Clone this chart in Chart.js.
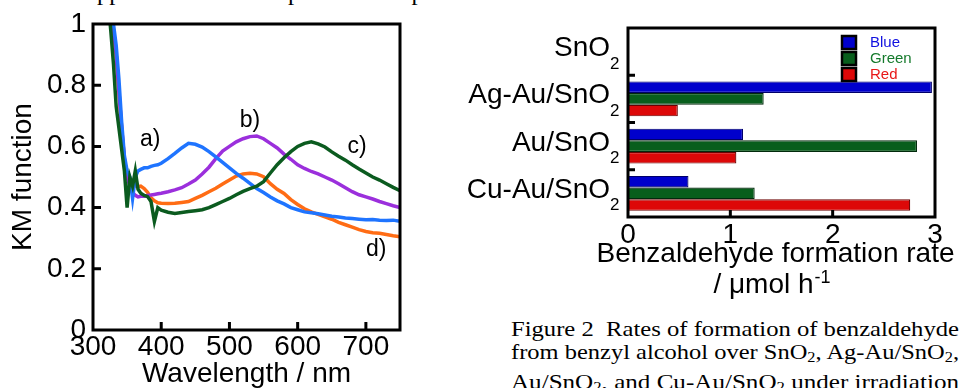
<!DOCTYPE html>
<html>
<head>
<meta charset="UTF-8">
<title>KM spectra and benzaldehyde formation rates</title>
<script src="https://cdn.jsdelivr.net/npm/chart.js"></script>
<style>
  body { margin: 0; width: 963px; height: 388px; overflow: hidden; background: #fff; position: relative; }
  #spectra { position: absolute; left: 0; top: 0; }
  #rates { position: absolute; left: 420px; top: 0; }
  .cap { position: absolute; font-family: "Liberation Serif", "Times New Roman", serif; font-size: 21px; line-height: 24px; white-space: pre; transform-origin: 0 0; color: #000; }
  .cap sub { font-size: 14px; vertical-align: -3px; line-height: 0; }
</style>
</head>
<body>
<div class="cap" id="topline" style="left:86px; top:-18.6px">appeared at the new peak in the spectra</div>
<canvas id="spectra" width="420" height="388"></canvas>
<canvas id="rates" width="543" height="300"></canvas>
<div class="cap fit" style="left:511px; top:317px">Figure 2  Rates of formation of benzaldehyde</div>
<div class="cap fit" style="left:511px; top:340px">from benzyl alcohol over SnO<sub>2</sub>, Ag-Au/SnO<sub>2</sub>,</div>
<div class="cap fit" style="left:511px; top:370px">Au/SnO<sub>2</sub>, and Cu-Au/SnO<sub>2</sub> under irradiation</div>

<script>
// ---- left panel: KM function spectra ----
const wavelengths = [322, 326, 330, 334, 338, 342, 346, 350, 354, 358, 362, 366, 370, 375, 380, 385, 390, 395, 400,
  410, 420, 430, 440, 450, 460, 470, 480, 490, 500, 510, 520, 530, 540, 550, 560, 570, 580, 590, 600,
  610, 620, 630, 640, 650, 660, 670, 680, 690, 700, 710, 720, 730, 740, 750];
const kmA = [1.10, 1.06, 1.00, 0.93, 0.82, 0.68, 0.57, 0.52, 0.50, 0.43, 0.50, 0.52, 0.525, 0.53, 0.53, 0.535, 0.538, 0.54, 0.545,
  0.56, 0.577, 0.595, 0.61, 0.607, 0.598, 0.583, 0.566, 0.548, 0.53, 0.512, 0.496, 0.479, 0.462, 0.449, 0.435, 0.422, 0.412, 0.40, 0.393,
  0.386, 0.383, 0.38, 0.376, 0.372, 0.369, 0.366, 0.364, 0.362, 0.36, 0.361, 0.359, 0.358, 0.359, 0.355];
const kmB = [1.10, 1.05, 0.98, 0.90, 0.78, 0.66, 0.56, 0.50, 0.47, 0.45, 0.44, 0.435, 0.437, 0.437, 0.44, 0.441, 0.443, 0.445, 0.447,
  0.452, 0.458, 0.465, 0.477, 0.49, 0.51, 0.532, 0.56, 0.585, 0.60, 0.615, 0.625, 0.632, 0.634, 0.625, 0.61, 0.595, 0.575, 0.558, 0.54,
  0.528, 0.518, 0.51, 0.50, 0.49, 0.478, 0.465, 0.452, 0.442, 0.435, 0.428, 0.42, 0.413, 0.406, 0.40];
const kmC = [1.08, 0.98, 0.87, 0.73, 0.66, 0.59, 0.52, 0.40, 0.50, 0.47, 0.52, 0.46, 0.447, 0.44, 0.436, 0.42, 0.355, 0.40, 0.392,
  0.385, 0.381, 0.384, 0.387, 0.39, 0.393, 0.40, 0.41, 0.42, 0.43, 0.442, 0.453, 0.462, 0.47, 0.485, 0.513, 0.54, 0.563, 0.583, 0.60,
  0.61, 0.615, 0.608, 0.598, 0.582, 0.568, 0.555, 0.54, 0.526, 0.513, 0.50, 0.49, 0.478, 0.466, 0.455];
const kmD = [1.10, 1.05, 0.98, 0.90, 0.78, 0.66, 0.56, 0.50, 0.48, 0.475, 0.47, 0.468, 0.47, 0.462, 0.45, 0.432, 0.422, 0.416, 0.414,
  0.413, 0.414, 0.417, 0.42, 0.43, 0.44, 0.452, 0.463, 0.477, 0.49, 0.503, 0.51, 0.512, 0.51, 0.501, 0.478, 0.46, 0.446, 0.426, 0.41,
  0.396, 0.386, 0.378, 0.37, 0.362, 0.352, 0.344, 0.336, 0.328, 0.322, 0.318, 0.316, 0.312, 0.308, 0.305];
const curveNames = ['a)', 'b)', 'c)', 'd)'];

// ---- right panel: benzaldehyde formation rates ----
const catalysts = ['SnO2', 'Ag-Au/SnO2', 'Au/SnO2', 'Cu-Au/SnO2'];
const rateBlue = [0, 2.97, 1.124, 0.591];
const rateGreen = [0, 1.326, 2.824, 1.238];
const rateRed = [0, 0.487, 1.059, 2.758];
const rateTitle = ['Benzaldehyde formation rate', '/ \u03bcmol h'];
const rateUnitPower = '-1';

const SANS = '"Liberation Sans", Arial, sans-serif';

// where the a)..d) tags sit, in data units
const curveTags = [
  { text: curveNames[0], at: [384, 0.621] },
  { text: curveNames[1], at: [530, 0.683] },
  { text: curveNames[2], at: [687, 0.598] },
  { text: curveNames[3], at: [715, 0.261] }
];

function toPoints(vals) {
  return wavelengths.map((w, i) => ({ x: w, y: vals[i] }));
}

function drawFrame(chart) {
  const { ctx, chartArea: a } = chart;
  ctx.save();
  ctx.strokeStyle = '#000';
  ctx.lineWidth = 3;
  ctx.strokeRect(a.left, a.top, a.right - a.left, a.bottom - a.top);
  ctx.restore();
}

const spectraDecor = {
  id: 'spectraDecor',
  afterDraw(chart) {
    const { ctx, chartArea: a, scales: { x, y } } = chart;
    drawFrame(chart);
    ctx.save();
    ctx.strokeStyle = '#000';
    ctx.lineWidth = 3;
    ctx.beginPath();
    x.ticks.forEach(t => {
      if (t.value > x.min && t.value < x.max) {
        const px = x.getPixelForValue(t.value);
        ctx.moveTo(px, a.bottom); ctx.lineTo(px, a.bottom - 8);
      }
    });
    y.ticks.forEach(t => {
      if (t.value > y.min && t.value < y.max) {
        const py = y.getPixelForValue(t.value);
        ctx.moveTo(a.left, py); ctx.lineTo(a.left + 8, py);
      }
    });
    ctx.stroke();
    ctx.font = '23px ' + SANS;
    ctx.fillStyle = '#000';
    ctx.textAlign = 'center';
    ctx.textBaseline = 'middle';
    curveTags.forEach(t => ctx.fillText(t.text, x.getPixelForValue(t.at[0]), y.getPixelForValue(t.at[1])));
    ctx.restore();
  }
};

const legendText = ['#1010e0', '#157a2c', '#e81818'];

const ratesDecor = {
  id: 'ratesDecor',
  afterDraw(chart) {
    const { ctx, chartArea: a, scales: { x, y } } = chart;
    drawFrame(chart);
    ctx.save();
    ctx.strokeStyle = '#000';
    ctx.lineWidth = 3;
    ctx.beginPath();
    x.ticks.forEach(t => {
      if (t.value > x.min && t.value < x.max) {
        const px = x.getPixelForValue(t.value);
        ctx.moveTo(px, a.bottom); ctx.lineTo(px, a.bottom - 7);
      }
    });
    for (let i = 0; i < catalysts.length - 1; i++) {
      const py = (y.getPixelForTick(i) + y.getPixelForTick(i + 1)) / 2;
      ctx.moveTo(a.left, py); ctx.lineTo(a.left + 7, py);
    }
    ctx.stroke();

    // catalyst names, last "2" drawn as a subscript
    ctx.fillStyle = '#000';
    ctx.textBaseline = 'alphabetic';
    catalysts.forEach((name, i) => {
      const py = y.getPixelForTick(i);
      ctx.font = '28px ' + SANS;
      ctx.textAlign = 'right';
      ctx.fillText(name.slice(0, -1), a.left - 18, py + 4.5);
      ctx.font = '17px ' + SANS;
      ctx.textAlign = 'left';
      ctx.fillText(name.slice(-1), a.left - 18, py + 17);
    });

    // x axis title (two lines, unit with superscript)
    const cx = (a.left + a.right) / 2 - 6;
    ctx.font = '28px ' + SANS;
    ctx.textAlign = 'center';
    ctx.fillText(rateTitle[0], cx, a.bottom + 45);
    const w1 = ctx.measureText(rateTitle[1]).width;
    ctx.font = '18px ' + SANS;
    const w2 = ctx.measureText(rateUnitPower).width;
    const sx = cx - (w1 + w2) / 2 - 4;
    ctx.textAlign = 'left';
    ctx.font = '28px ' + SANS;
    ctx.fillText(rateTitle[1], sx, a.bottom + 76);
    ctx.font = '18px ' + SANS;
    ctx.fillText(rateUnitPower, sx + w1 + 1, a.bottom + 66);

    // legend
    chart.data.datasets.forEach((ds, i) => {
      const top = a.top + 8 + i * 16;
      const left = a.right - 93;
      ctx.fillStyle = ds.backgroundColor;
      ctx.fillRect(left, top, 14, 13);
      ctx.lineWidth = 2.5;
      ctx.strokeStyle = '#000';
      ctx.strokeRect(left, top, 14, 13);
      ctx.fillStyle = legendText[i];
      ctx.font = '15px ' + SANS;
      ctx.textBaseline = 'middle';
      ctx.fillText(ds.label, left + 28, top + 7);
    });
    ctx.restore();
  }
};

new Chart(document.getElementById('spectra'), {
  type: 'line',
  data: {
    datasets: [
      { label: curveNames[0], data: toPoints(kmA), borderColor: '#1f74ff', order: 1 },
      { label: curveNames[1], data: toPoints(kmB), borderColor: '#9b2fdc', order: 2 },
      { label: curveNames[2], data: toPoints(kmC), borderColor: '#0b5b1f', order: 0 },
      { label: curveNames[3], data: toPoints(kmD), borderColor: '#ff6c14', order: 3 }
    ]
  },
  options: {
    responsive: false,
    animation: false,
    layout: { padding: { top: 24, right: 20, left: 0, bottom: 0 } },
    elements: { point: { radius: 0 }, line: { borderWidth: 3.5, tension: 0 } },
    plugins: { legend: { display: false }, tooltip: { enabled: false } },
    scales: {
      x: {
        type: 'linear', min: 300, max: 750,
        grid: { display: false, drawTicks: false },
        border: { display: false },
        ticks: { stepSize: 100, includeBounds: false, padding: 0, color: '#000', font: { family: SANS, size: 28 } },
        title: { display: true, text: 'Wavelength / nm', color: '#000', font: { family: SANS, size: 28, lineHeight: 1 }, padding: 0 },
        afterFit(s) { s.height = 58; }
      },
      y: {
        min: 0, max: 1,
        grid: { display: false, drawTicks: false },
        border: { display: false },
        ticks: {
          stepSize: 0.2, padding: 7, color: '#000', font: { family: SANS, size: 28 },
          callback: v => String(Math.round(v * 10) / 10)
        },
        title: { display: true, text: 'KM function', color: '#000', font: { family: SANS, size: 28, lineHeight: 1 }, padding: { top: 9, bottom: 0 } },
        afterFit(s) { s.width = 93; }
      }
    }
  },
  plugins: [spectraDecor]
});

new Chart(document.getElementById('rates'), {
  type: 'bar',
  data: {
    labels: catalysts,
    datasets: [
      { label: 'Blue', data: rateBlue, backgroundColor: '#0000cc', borderColor: '#00006a' },
      { label: 'Green', data: rateGreen, backgroundColor: '#085e1c', borderColor: '#022a0c' },
      { label: 'Red', data: rateRed, backgroundColor: '#dd0808', borderColor: '#6a0000' }
    ]
  },
  options: {
    indexAxis: 'y',
    responsive: false,
    animation: false,
    layout: { padding: { top: 28, right: 28, left: 0, bottom: 0 } },
    datasets: { bar: { categoryPercentage: 0.74, barPercentage: 1, borderWidth: 1.2 } },
    plugins: { legend: { display: false }, tooltip: { enabled: false } },
    scales: {
      x: {
        type: 'linear', min: 0, max: 3,
        grid: { display: false, drawTicks: false },
        border: { display: false },
        ticks: { stepSize: 1, padding: 1, color: '#000', font: { family: SANS, size: 28 } },
        afterFit(s) { s.height = 83; }
      },
      y: {
        grid: { display: false, drawTicks: false },
        border: { display: false },
        ticks: { display: false },
        afterFit(s) { s.width = 208; }
      }
    }
  },
  plugins: [ratesDecor]
});

// caption lines are set justified to the column width
document.getElementById('topline').style.transform = 'scaleX(1.17)';
document.querySelectorAll('.cap.fit').forEach(el => {
  const w = el.getBoundingClientRect().width;
  el.style.transform = 'scaleX(' + (448 / w) + ')';
});
</script>
</body>
</html>
